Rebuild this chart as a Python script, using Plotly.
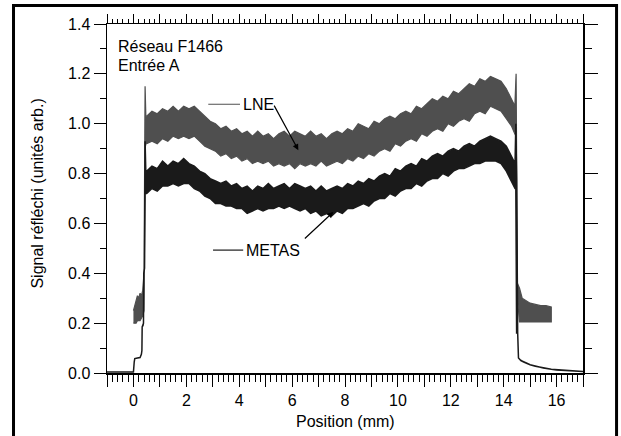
import plotly.graph_objects as go

# ---------------- data ----------------
# LNE series: envelope (upper / lower edge) of the noisy reflected signal
lne_x = [0.00, 0.05, 0.10, 0.15, 0.20, 0.25, 0.30, 0.35, 0.40, 0.44, 0.47,
         0.5, 0.7, 0.9, 1.1, 1.3, 1.5, 1.7, 1.9, 2.1, 2.3,
         2.5, 2.7, 2.9, 3.1, 3.3, 3.5, 3.7, 3.9, 4.1, 4.3,
         4.5, 4.7, 4.9, 5.1, 5.3, 5.5, 5.7, 5.9, 6.1, 6.3,
         6.5, 6.7, 6.9, 7.1, 7.3, 7.5, 7.7, 7.9, 8.1, 8.3,
         8.5, 8.7, 8.9, 9.1, 9.3, 9.5, 9.7, 9.9, 10.1, 10.3,
         10.5, 10.7, 10.9, 11.1, 11.3, 11.5, 11.7, 11.9, 12.1, 12.3,
         12.5, 12.7, 12.9, 13.1, 13.3, 13.5, 13.7, 13.9, 14.1, 14.3,
         14.38, 14.42, 14.47, 14.52, 14.60, 14.70, 14.85, 15.0, 15.2, 15.4, 15.6, 15.8]
lne_hi = [0.25, 0.27, 0.29, 0.31, 0.30, 0.32, 0.31, 0.33, 0.40, 1.15, 1.03,
          1.03, 1.05, 1.04, 1.06, 1.05, 1.07, 1.05, 1.07, 1.06, 1.07,
          1.05, 1.03, 1.01, 1.00, 0.98, 0.99, 0.97, 0.98, 0.96, 0.97,
          0.95, 0.97, 0.95, 0.96, 0.94, 0.96, 0.97, 0.95, 0.97, 0.96,
          0.95, 0.97, 0.95, 0.96, 0.94, 0.96, 0.97, 0.96, 0.98, 0.97,
          1.00, 0.99, 0.98, 1.01, 1.00, 1.02, 1.03, 1.02, 1.04, 1.05,
          1.04, 1.07, 1.06, 1.08, 1.10, 1.09, 1.11, 1.10, 1.13, 1.12,
          1.14, 1.16, 1.15, 1.18, 1.17, 1.19, 1.18, 1.17, 1.14, 1.10,
          1.08, 1.06, 1.20, 0.36, 0.34, 0.30, 0.29, 0.28, 0.275, 0.27, 0.27, 0.265]
lne_lo = [0.20, 0.20, 0.20, 0.21, 0.21, 0.21, 0.22, 0.23, 0.25, 0.90, 0.92,
          0.92, 0.93, 0.92, 0.94, 0.93, 0.95, 0.94, 0.95, 0.94, 0.95,
          0.93, 0.91, 0.90, 0.89, 0.87, 0.88, 0.86, 0.87, 0.85, 0.86,
          0.84, 0.85, 0.84, 0.85, 0.83, 0.84, 0.83, 0.84, 0.82, 0.84,
          0.83, 0.84, 0.83, 0.85, 0.83, 0.84, 0.85, 0.84, 0.86, 0.85,
          0.87, 0.86, 0.88, 0.87, 0.89, 0.90, 0.89, 0.92, 0.91, 0.93,
          0.94, 0.93, 0.96, 0.95, 0.97, 0.98, 0.97, 1.00, 0.99, 1.01,
          1.02, 1.01, 1.04, 1.05, 1.04, 1.07, 1.06, 1.05, 1.02, 0.99,
          0.97, 0.96, 0.95, 0.30, 0.205, 0.205, 0.205, 0.205, 0.205, 0.205, 0.205, 0.205]

# METAS series: envelope (upper / lower edge) of the noisy reflected signal
metas_x = [-1.0, -0.5, 0.00, 0.03, 0.05, 0.15, 0.25, 0.30, 0.32, 0.33, 0.36, 0.38, 0.39, 0.42, 0.44, 0.47,
           0.5, 0.7, 0.9, 1.1, 1.3, 1.5, 1.7, 1.9, 2.1, 2.3,
           2.5, 2.7, 2.9, 3.1, 3.3, 3.5, 3.7, 3.9, 4.1, 4.3,
           4.5, 4.7, 4.9, 5.1, 5.3, 5.5, 5.7, 5.9, 6.1, 6.3,
           6.5, 6.7, 6.9, 7.1, 7.3, 7.5, 7.7, 7.9, 8.1, 8.3,
           8.5, 8.7, 8.9, 9.1, 9.3, 9.5, 9.7, 9.9, 10.1, 10.3,
           10.5, 10.7, 10.9, 11.1, 11.3, 11.5, 11.7, 11.9, 12.1, 12.3,
           12.5, 12.7, 12.9, 13.1, 13.3, 13.5, 13.7, 13.9, 14.1, 14.3,
           14.38, 14.43, 14.46, 14.49, 14.53, 14.56, 14.65, 14.8, 15.0, 15.2, 15.5, 15.8, 16.0, 16.5, 17.0]
metas_hi = [0.004, 0.004, 0.004, 0.045, 0.058, 0.06, 0.062, 0.075, 0.09, 0.185, 0.19, 0.20, 0.40, 0.42, 0.93, 0.80,
            0.81, 0.83, 0.82, 0.85, 0.83, 0.85, 0.84, 0.86, 0.84, 0.83,
            0.81, 0.80, 0.78, 0.77, 0.76, 0.77, 0.75, 0.76, 0.74, 0.75,
            0.73, 0.75, 0.74, 0.76, 0.74, 0.75, 0.76, 0.74, 0.76, 0.75,
            0.74, 0.75, 0.73, 0.75, 0.73, 0.74, 0.75, 0.74, 0.76, 0.75,
            0.77, 0.76, 0.78, 0.77, 0.79, 0.80, 0.79, 0.82, 0.81, 0.83,
            0.84, 0.83, 0.86, 0.85, 0.87, 0.88, 0.87, 0.89, 0.90, 0.89,
            0.91, 0.92, 0.91, 0.93, 0.94, 0.95, 0.94, 0.93, 0.91, 0.87,
            0.85, 0.84, 1.00, 0.78, 0.16, 0.06, 0.05, 0.042, 0.033, 0.027, 0.02, 0.015, 0.012, 0.008, 0.006]
metas_lo = [0.004, 0.004, 0.004, 0.045, 0.058, 0.06, 0.062, 0.075, 0.09, 0.185, 0.19, 0.20, 0.40, 0.42, 0.72, 0.72,
            0.72, 0.74, 0.73, 0.75, 0.75, 0.76, 0.75, 0.76, 0.76, 0.74,
            0.73, 0.71, 0.70, 0.68, 0.68, 0.67, 0.67, 0.66, 0.66, 0.64,
            0.65, 0.66, 0.65, 0.66, 0.66, 0.67, 0.66, 0.67, 0.66, 0.65,
            0.66, 0.64, 0.65, 0.63, 0.64, 0.63, 0.65, 0.64, 0.66, 0.66,
            0.67, 0.68, 0.67, 0.69, 0.70, 0.70, 0.72, 0.71, 0.73, 0.74,
            0.74, 0.76, 0.75, 0.77, 0.78, 0.78, 0.80, 0.79, 0.81, 0.82,
            0.82, 0.83, 0.84, 0.84, 0.85, 0.85, 0.85, 0.84, 0.81, 0.77,
            0.75, 0.74, 0.74, 0.16, 0.16, 0.06, 0.05, 0.042, 0.033, 0.027, 0.02, 0.015, 0.012, 0.008, 0.006]

x_tick_values = list(range(-1, 18))
x_tick_labels = ["" if v % 2 else str(v) for v in x_tick_values]
y_tick_values = [0.0, 0.2, 0.4, 0.6, 0.8, 1.0, 1.2, 1.4]
y_tick_labels = ["0.0", "0.2", "0.4", "0.6", "0.8", "1.0", "1.2", "1.4"]

FONT = "Liberation Sans, Arial, sans-serif"
LNE_COLOR = "#4f4f4f"
METAS_COLOR = "#1a1a1a"

fig = go.Figure()

fig.add_trace(go.Scatter(
    x=lne_x + lne_x[::-1], y=lne_hi + lne_lo[::-1],
    mode="lines", fill="toself", fillcolor=LNE_COLOR,
    line=dict(color=LNE_COLOR, width=1.2), hoverinfo="skip", showlegend=False))

fig.add_trace(go.Scatter(
    x=metas_x + metas_x[::-1], y=metas_hi + metas_lo[::-1],
    mode="lines", fill="toself", fillcolor=METAS_COLOR,
    line=dict(color=METAS_COLOR, width=1.5), hoverinfo="skip", showlegend=False))

# empty trace to carry the top / right tick axes
fig.add_trace(go.Scatter(x=[None], y=[None], xaxis="x2", yaxis="y2", showlegend=False, hoverinfo="skip"))

tickfont = dict(family=FONT, size=16, color="black")

fig.update_layout(
    width=621, height=436,
    margin=dict(l=107, r=38, t=24, b=63),
    paper_bgcolor="white", plot_bgcolor="white",
    font=dict(family=FONT, size=16, color="black"),
    xaxis=dict(range=[-1, 17], tickmode="array", tickvals=x_tick_values, ticktext=x_tick_labels,
               ticks="outside", ticklen=12, tickwidth=1, tickcolor="black",
               minor=dict(dtick=0.2, tick0=0, ticks="outside", ticklen=7, tickwidth=1, tickcolor="black"),
               showline=True, linecolor="black", linewidth=1.5, showgrid=False, zeroline=False,
               tickfont=tickfont, mirror=False),
    xaxis2=dict(range=[-1, 17], overlaying="x", side="top", anchor="y", tickmode="array",
                tickvals=x_tick_values, ticks="outside", ticklen=9, tickwidth=1, tickcolor="black",
                minor=dict(dtick=0.2, tick0=0, ticks="outside", ticklen=4, tickwidth=1, tickcolor="black"),
                showline=True, linecolor="black", linewidth=1.5, showgrid=False, zeroline=False,
                showticklabels=False),
    yaxis=dict(range=[0, 1.4], tickmode="array", tickvals=y_tick_values, ticktext=y_tick_labels,
               ticks="outside", ticklen=12, tickwidth=1, tickcolor="black",
               minor=dict(dtick=0.1, tick0=0, ticks="outside", ticklen=6, tickwidth=1, tickcolor="black"),
               showline=True, linecolor="black", linewidth=1.5, showgrid=False, zeroline=False,
               tickfont=tickfont),
    yaxis2=dict(range=[0, 1.4], overlaying="y", side="right", anchor="x", tickmode="array",
                tickvals=y_tick_values, ticks="outside", ticklen=13, tickwidth=1, tickcolor="black",
                minor=dict(dtick=0.1, tick0=0, ticks="outside", ticklen=7, tickwidth=1, tickcolor="black"),
                showline=True, linecolor="black", linewidth=1.5, showgrid=False, zeroline=False,
                showticklabels=False),
)

annots = [
    # axis titles
    dict(text="Position (mm)", xref="paper", yref="paper", x=0.5, y=-0.140,
         xanchor="center", yanchor="middle", showarrow=False),
    dict(text="Signal réfléchi (unités arb.)", xref="paper", yref="paper", x=-0.145, y=0.514,
         xanchor="center", yanchor="middle", textangle=-90, showarrow=False),
    # sample info
    dict(text="Réseau F1466", x=-0.65, y=1.311, xanchor="left", yanchor="middle", showarrow=False),
    dict(text="Entrée A", x=-0.65, y=1.235, xanchor="left", yanchor="middle", showarrow=False),
    # series labels
    dict(text="LNE", x=4.06, y=1.078, xanchor="left", yanchor="middle", showarrow=False),
    dict(text="METAS", x=4.19, y=0.493, xanchor="left", yanchor="middle", showarrow=False),
    # arrows
    dict(text="", x=6.236, y=0.894, ax=-25, ay=-46, showarrow=True, arrowhead=2,
         arrowsize=1, arrowwidth=1.2, arrowcolor="black", standoff=0),
    dict(text="", x=7.56, y=0.646, ax=-30, ay=28, showarrow=True, arrowhead=2,
         arrowsize=1, arrowwidth=1.2, arrowcolor="black", standoff=0),
]
fig.update_layout(annotations=annots)

shapes = [
    # label swatches
    dict(type="line", x0=2.83, x1=4.03, y0=1.078, y1=1.078, line=dict(color=LNE_COLOR, width=1.2)),
    dict(type="line", x0=3.01, x1=4.15, y0=0.493, y1=0.493, line=dict(color=METAS_COLOR, width=1.2)),
    # outer frame
    dict(type="rect", xref="paper", yref="paper", x0=-0.1964, x1=1.0705, y0=-0.21, y1=1.053,
         line=dict(color="black", width=3), fillcolor="rgba(0,0,0,0)"),
]
fig.update_layout(shapes=shapes)

fig.write_html("out.html",
               config={"displayModeBar": False, "staticPlot": True},
               post_script="document.body.style.margin='0px';document.body.style.overflow='hidden';")
